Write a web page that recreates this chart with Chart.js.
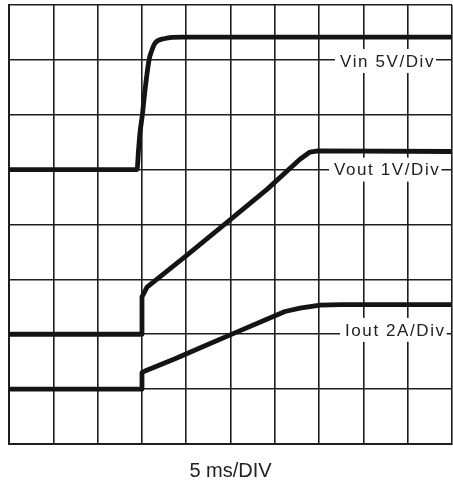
<!DOCTYPE html>
<html>
<head>
<meta charset="utf-8">
<script src="https://cdn.jsdelivr.net/npm/chart.js@4/dist/chart.umd.min.js"></script>
<style>
  html, body { margin: 0; padding: 0; background: #fff; }
  #wrap { width: 453px; height: 486px; position: relative; }
</style>
</head>
<body>
<div id="wrap"><canvas id="c"></canvas></div>
<script>
// ---- Data (time in ms, physical units) ----
const vinTime  = [0, 14.45, 14.62, 14.79, 15.05, 15.35, 15.80, 16.14, 16.48, 17.6, 19.5, 50];
const vinVolts = [0, 0, 1.78, 3.4, 4.97, 7.24, 9.97, 10.9, 11.52, 11.95, 12.07, 12.07];

const voutTime  = [0, 14.98, 15.01, 15.58, 20.09, 24.6, 29.12, 32.84, 33.97, 34.9, 50];
const voutVolts = [0, 0, 0.68, 0.86, 1.44, 2.04, 2.64, 3.19, 3.32, 3.34, 3.33];

const ioutTime = [0, 14.98, 15.01, 15.35, 18.74, 22.12, 25.5, 28.9, 31.15, 32.84, 35.1, 37.5, 50];
const ioutAmps = [0, 0, 0.6, 0.66, 1.11, 1.58, 2.05, 2.52, 2.83, 2.95, 3.06, 3.08, 3.08];

// channel settings: units per division and ground-reference division
const channelNames   = ['Vin 5V/Div', 'Vout 1V/Div', 'Iout 2A/Div'];
const unitsPerDiv    = [5, 1, 2];
const groundDiv      = [5, 2, 1];
const timePerDiv     = 5;   // ms/DIV
const xDivisions     = 10;
const yDivisions     = 8;
const xAxisLabel     = '5 ms/DIV';

// label anchors (time in ms, division) - left edge / vertical centre
const labelTime = [37.36, 36.68, 37.92];
const labelDiv  = [6.98, 5.0, 2.08];

function toPoints(times, vals, ch) {
  return times.map((t, i) => ({ x: t, y: groundDiv[ch] + vals[i] / unitsPerDiv[ch] }));
}

const traceColor = '#141414';
const gridColor = '#1e1e1e';

const labelPlugin = {
  id: 'chLabels',
  beforeDatasetsDraw(chart) {
    const { ctx, scales: { x, y } } = chart;
    ctx.save();
    ctx.font = '17px "Liberation Sans", Arial, sans-serif';
    try { ctx.letterSpacing = '1.6px'; } catch (e) {}
    ctx.textBaseline = 'middle';
    ctx.textAlign = 'left';
    channelNames.forEach((name, i) => {
      const px = x.getPixelForValue(labelTime[i]);
      const py = y.getPixelForValue(labelDiv[i]);
      const w = ctx.measureText(name).width;
      ctx.fillStyle = '#fff';
      ctx.fillRect(px - 5, py - 12, w + 6, 24);
      ctx.fillStyle = '#222';
      ctx.fillText(name, px, py + 1);
    });
    ctx.restore();
  }
};

const common = {
  borderColor: traceColor,
  borderWidth: 4.8,
  pointRadius: 0,
  fill: false,
  borderJoinStyle: 'round',
  borderCapStyle: 'butt'
};

new Chart(document.getElementById('c'), {
  type: 'line',
  data: {
    datasets: [
      Object.assign({ label: channelNames[0], data: toPoints(vinTime, vinVolts, 0), cubicInterpolationMode: 'monotone' }, common),
      Object.assign({ label: channelNames[1], data: toPoints(voutTime, voutVolts, 1), tension: 0 }, common),
      Object.assign({ label: channelNames[2], data: toPoints(ioutTime, ioutAmps, 2), tension: 0 }, common)
    ]
  },
  options: {
    responsive: true,
    maintainAspectRatio: false,
    animation: false,
    layout: { padding: { left: 9, right: 1, top: 5, bottom: 0 } },
    plugins: { legend: { display: false }, tooltip: { enabled: false } },
    scales: {
      x: {
        type: 'linear',
        min: 0,
        max: timePerDiv * xDivisions,
        ticks: { display: false, stepSize: timePerDiv },
        grid: { color: gridColor, lineWidth: 1.6, drawTicks: false },
        border: { display: true, color: gridColor, width: 2 },
        title: {
          display: true,
          text: xAxisLabel,
          color: '#222',
          font: { family: '"Liberation Sans", Arial, sans-serif', size: 20 },
          padding: { top: 15, bottom: 3 }
        }
      },
      y: {
        type: 'linear',
        min: 0,
        max: yDivisions,
        ticks: { display: false, stepSize: 1 },
        grid: { color: gridColor, lineWidth: 1.6, drawTicks: false },
        border: { display: true, color: gridColor, width: 2 }
      }
    }
  },
  plugins: [labelPlugin]
});
</script>
</body>
</html>
